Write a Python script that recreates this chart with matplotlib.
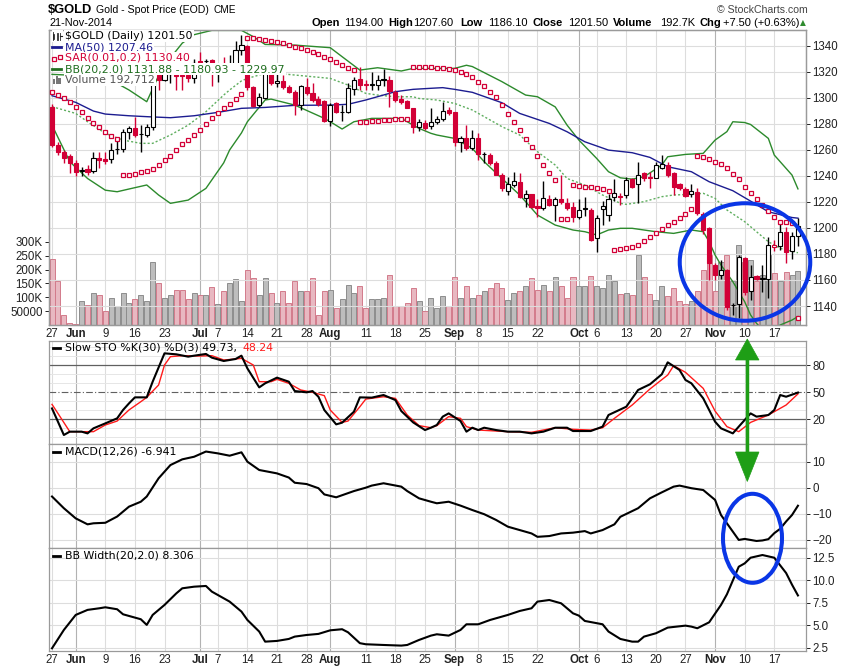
import numpy as np
import pandas as pd
import matplotlib
matplotlib.use('Agg')
import matplotlib.pyplot as plt
from matplotlib.patches import Ellipse, Polygon, Rectangle
from matplotlib.lines import Line2D

plt.rcParams['font.family'] = ['Liberation Sans', 'DejaVu Sans']

W, H = 850, 668

# trading days on the chart
days = pd.bdate_range('2014-05-27', '2014-11-21')
days = days[~days.isin(pd.to_datetime(['2014-07-04', '2014-09-01']))]

tick_dates = ['2014-05-27', '2014-06-02', '2014-06-09', '2014-06-16', '2014-06-23', '2014-07-01',
              '2014-07-07', '2014-07-14', '2014-07-21', '2014-07-28', '2014-08-01', '2014-08-11',
              '2014-08-18', '2014-08-25', '2014-09-02', '2014-09-08', '2014-09-15', '2014-09-22',
              '2014-10-01', '2014-10-06', '2014-10-13', '2014-10-20', '2014-10-27', '2014-11-03',
              '2014-11-10', '2014-11-17']
tick_text = ['27', 'Jun', '9', '16', '23', 'Jul', '7', '14', '21', '28', 'Aug', '11', '18', '25',
             'Sep', '8', '15', '22', 'Oct', '6', '13', '20', '27', 'Nov', '10', '17']

prev_close0 = 1292.0
opens = [1293, 1264, 1258, 1255, 1250, 1244, 1245, 1244, 1253.5, 1253, 1253, 1260.5, 1261, 1274, 1276.5,
         1272, 1271.5, 1277.6, 1317.7, 1314, 1318, 1318, 1317.5, 1317.5, 1315.5, 1328, 1328, 1329, 1320,
         1323, 1321, 1325, 1336.5, 1340, 1308.5, 1294.5, 1300, 1319, 1311.5, 1313, 1308, 1304.6, 1294.5,
         1308.6, 1303.6, 1299, 1297.5, 1282, 1295.8, 1289, 1288.8, 1307, 1314.4, 1310.5, 1310, 1310,
         1314.5, 1313.6, 1304.6, 1299, 1297.5, 1292, 1277.8, 1281, 1278, 1281.6, 1283.5, 1290.6, 1288.8,
         1266.2, 1269.3, 1261.6, 1269.3, 1256.5, 1256, 1250, 1240.6, 1228.4, 1233, 1235.6, 1223, 1225.8,
         1217, 1215, 1222.6, 1217.5, 1222, 1218.9, 1216, 1208.4, 1215.3, 1213.7, 1192, 1214.3, 1210,
         1223.6, 1224.2, 1225, 1237.6, 1233.5, 1241.9, 1239, 1238.6, 1246, 1248.7, 1241.9, 1233.6, 1230,
         1226, 1227.9, 1211, 1200, 1171.4, 1164.2, 1168, 1140.6, 1141.4, 1176.6, 1151.5, 1163, 1161,
         1161, 1185, 1186, 1196.5, 1182, 1194]
highs = [1295, 1266, 1260, 1257, 1252, 1247, 1248, 1258, 1258, 1258, 1265, 1268, 1276, 1278, 1285, 1279,
         1280, 1318, 1319, 1323, 1321, 1320, 1319, 1319, 1330, 1335, 1330, 1330, 1324, 1331, 1333, 1344,
         1348, 1340.5, 1309, 1303.4, 1325.7, 1325.7, 1318.8, 1317.5, 1309.5, 1306, 1310, 1315, 1311, 1301,
         1298, 1296, 1297, 1294.4, 1311, 1316, 1324, 1313.5, 1320, 1317.5, 1322.5, 1317, 1306, 1302,
         1298.4, 1292.5, 1284, 1283, 1291.9, 1286, 1297, 1293, 1289.3, 1270.4, 1279.3, 1275.4, 1272.8,
         1258.6, 1257.2, 1251.3, 1241.9, 1239.4, 1243, 1241.9, 1229, 1226.4, 1222, 1236.4, 1225.6, 1223.8,
         1240.6, 1223.2, 1219.9, 1222.6, 1223.5, 1215, 1210, 1220.5, 1226.4, 1237.6, 1227, 1239.5, 1238,
         1250.8, 1243.2, 1243.2, 1251, 1256, 1250.8, 1243.2, 1234.2, 1231.3, 1233.6, 1230.5, 1212.3,
         1200.8, 1172.7, 1175.3, 1168.5, 1142, 1179.3, 1178, 1171.4, 1163.8, 1171.4, 1193.3, 1191, 1204.9,
         1200.8, 1197.1, 1207.6]
lows = [1262, 1256, 1250, 1242, 1240, 1240, 1241, 1242, 1246, 1249, 1250, 1257, 1258, 1268, 1270, 1258,
        1270, 1275, 1306, 1313, 1311, 1306, 1306, 1312, 1311, 1325, 1325, 1309, 1312, 1319, 1318, 1324,
        1333, 1306, 1293, 1293, 1299, 1309.6, 1308, 1307, 1303.4, 1287, 1291, 1302, 1297, 1294, 1281.6,
        1278, 1288, 1282, 1288, 1302, 1306, 1306, 1306, 1306, 1309, 1293, 1297, 1295.6, 1292, 1273,
        1274.5, 1275, 1276, 1280, 1282, 1286.5, 1262.6, 1258.2, 1260, 1260, 1252.3, 1249.6, 1248.4,
        1240.6, 1228, 1225.3, 1231.7, 1222.7, 1216.3, 1215.5, 1208.6, 1213.8, 1216.7, 1205, 1218.1,
        1213.4, 1204.2, 1207.1, 1209, 1189.8, 1181.7, 1202.6, 1205, 1220.5, 1217.6, 1223, 1230.4, 1219.4,
        1236, 1230.4, 1238, 1245, 1239.4, 1225, 1228.8, 1224, 1224, 1209.9, 1195.2, 1159.8, 1159.8,
        1161.1, 1136.9, 1133, 1130.4, 1148.6, 1144.8, 1160, 1151, 1145.9, 1182, 1182.9, 1173.4, 1175.9,
        1186.1]
closes = [1264, 1258, 1254, 1250, 1243, 1244.5, 1243, 1253.5, 1252, 1251.5, 1260, 1261, 1274, 1276.5,
          1271.5, 1272.5, 1277.6, 1315, 1313.9, 1319, 1319.5, 1317, 1316.5, 1315.2, 1327, 1326.5, 1328.2,
          1321, 1322, 1320, 1324, 1336.7, 1340.5, 1308.5, 1294, 1300.4, 1319, 1311, 1313, 1308, 1304.6,
          1294.5, 1309, 1304, 1298.4, 1295, 1282, 1294.4, 1288.8, 1289.3, 1307.2, 1314, 1309.8, 1309.5,
          1310.2, 1313.6, 1314, 1305.5, 1298.4, 1296.4, 1292.4, 1277.8, 1281.6, 1277, 1281.6, 1283.7,
          1290, 1288, 1266.2, 1269.3, 1261.6, 1269.3, 1256.5, 1257, 1249.6, 1241, 1231, 1233.5, 1236.4,
          1224, 1225.8, 1216.3, 1215, 1223, 1217.5, 1222.6, 1219.7, 1215.5, 1208.4, 1213.7, 1214.5,
          1190.6, 1208, 1216.6, 1222.6, 1226.9, 1224, 1237, 1231.7, 1241, 1238.6, 1238, 1248.4, 1249.5,
          1240.6, 1231.6, 1230.8, 1224.7, 1228, 1211.2, 1198.5, 1172.7, 1164.2, 1168, 1139.5, 1140.8, 1178,
          1151, 1162.5, 1160.8, 1161.2, 1187, 1186.6, 1196.5, 1181.7, 1194, 1201.5]
volume_k = [237, 157, 35, 6, 4, 85, 71, 117, 110, 49, 99, 70, 114, 78, 92, 107, 85, 226, 150, 99, 110,
            128, 125, 93, 117, 110, 107, 138, 77, 124, 152, 167, 86, 200, 168, 107, 171, 115, 79, 121,
            81, 160, 121, 121, 171, 35, 124, 128, 60, 92, 146, 117, 142, 60, 92, 92, 98, 182, 70, 70, 78,
            132, 85, 49, 96, 60, 103, 70, 174, 98, 139, 98, 107, 121, 132, 150, 132, 89, 117, 124, 139,
            168, 128, 146, 124, 174, 139, 99, 174, 139, 142, 178, 139, 135, 182, 157, 112, 117, 107, 251,
            174, 112, 89, 142, 103, 132, 85, 74, 85, 124, 200, 251, 121, 229, 251, 157, 290, 229, 236,
            157, 182, 251, 188, 160, 190, 182, 193]
sar = [1304.5, 1302.5, 1300.2, 1297, 1293.2, 1288.8, 1284.2, 1280.5, 1277.5, 1274, 1271, 1268.5,
       1240.6, 1240.6, 1241.5, 1243, 1244, 1245.4, 1248.7, 1252, 1255.6, 1260.2, 1264.6, 1267.9, 1271.7,
       1275.6, 1279.9, 1284.5, 1288.4, 1292.4, 1295.6, 1299.4, 1303,
       1346.2, 1346.2, 1345.1, 1344.4, 1343.6, 1342.6, 1341.8, 1340.5, 1339.3, 1338, 1336.7, 1334.9,
       1333.4, 1331.6, 1329.8, 1327.7, 1325.2, 1323.1, 1321.3,
       1281.1, 1281.6, 1281.9, 1282.2, 1282.7, 1283.2, 1283.4, 1283.7, 1283.9,
       1323.9, 1323.9, 1323.6, 1323.4, 1323.1, 1322.6, 1321.8, 1321.3, 1319.5, 1318, 1315.6, 1312.3,
       1308.7, 1304.6, 1300.3, 1294.2, 1287.2, 1281.1, 1274.9, 1268.3, 1261.9, 1254.9, 1248.3, 1242.4,
       1236.7,
       1206.8, 1206.8,
       1232.7, 1232, 1231.7, 1231.2, 1230.4, 1229.9, 1228.6,
       1182.8, 1183.5, 1184.3, 1185.6, 1186.9, 1190, 1192.8, 1195.8, 1199.2, 1202.2, 1204.8, 1207.4,
       1210.4, 1214.3,
       1255.5, 1254.7, 1252.9, 1250.9, 1248.8, 1245.8, 1241.4, 1237.3, 1231.7, 1226.6, 1222.2, 1217.6,
       1213, 1208.7, 1204.8, 1204.3, 1204,
       1130.4]

# indicator lines, read at bar numbers
ma_day = [0, 4, 7, 9, 13, 16, 20, 24, 28, 32, 36, 41, 47, 50, 53, 58, 61, 64, 66, 68, 71, 76, 79, 84,
          87, 90, 94, 98, 101, 104, 108, 111, 115, 118, 121, 125, 126]
ma_val = [1301.6, 1296.5, 1289.8, 1287.5, 1286.2, 1285.5, 1284.7, 1286.2, 1288.8, 1291.9, 1292.6,
          1294.2, 1294.4, 1295.0, 1298.3, 1304.7, 1306.5, 1307.3, 1307.8, 1306.5, 1304.2, 1296.2,
          1288.0, 1280.3, 1273.9, 1266.2, 1259.8, 1257.8, 1254.2, 1247.0, 1243.2, 1235.5, 1228.6,
          1220.6, 1212.4, 1208.0, 1207.5]
bbu_day = [0, 5, 10, 13, 16, 18, 19, 22, 24, 27, 30, 32, 34, 36, 41, 47, 49, 52, 55, 59, 61, 64, 68,
           70, 71, 76, 80, 82, 85, 87, 89, 92, 94, 96, 98, 100, 103, 104, 107, 110, 112, 114, 115, 117,
           118, 121, 122, 125, 126]
bbu_val = [1318, 1317, 1313.6, 1306, 1297, 1317, 1325, 1342, 1348.5, 1351.8, 1351.8, 1351.8, 1347, 1341,
           1340.5, 1338.5, 1331.6, 1321.3, 1323.1, 1320.6, 1322.6, 1322.6, 1322.6, 1325, 1324, 1312.4,
           1302.1, 1300.8, 1293, 1279, 1267.5, 1253.4, 1243.2, 1238.5, 1237.5, 1239.3, 1248.3, 1254.7,
           1256.5, 1257.3, 1267.5, 1274, 1281.6, 1281, 1279.5, 1268.8, 1256, 1240.6, 1230]
bbm_day = [0, 1, 4, 6, 9, 12, 15, 17, 20, 23, 26, 29, 30, 32, 33, 36, 38, 41, 47, 50, 53, 55, 58, 61,
           62, 65, 68, 71, 73, 76, 79, 82, 85, 87, 90, 93, 96, 97, 100, 103, 105, 108, 110, 112, 114,
           117, 119, 121, 123, 126]
bbm_val = [1293.2, 1291.9, 1288, 1281.6, 1272.7, 1267.5, 1265, 1265, 1271.4, 1279, 1289.3, 1302.1,
           1306, 1313, 1314.9, 1318.8, 1318.8, 1317.5, 1314.9, 1309.8, 1303.4, 1302.1, 1300.8, 1300.8,
           1299.5, 1298.3, 1295.7, 1290.6, 1285.5, 1277.8, 1271.4, 1258.6, 1248.3, 1238, 1232.9, 1225.3,
           1218.9, 1218.1, 1220.2, 1224, 1225.3, 1225.8, 1226.6, 1222.7, 1213.8, 1204.8, 1197.1, 1189.4,
           1184.3, 1180.9]
bbl_day = [0, 3, 6, 9, 11, 13, 16, 18, 20, 23, 26, 29, 30, 32, 33, 36, 37, 41, 46, 47, 49, 51, 54, 59,
           61, 62, 64, 65, 68, 71, 73, 76, 79, 82, 85, 88, 90, 92, 94, 96, 98, 100, 102, 105, 108, 110,
           111, 112, 113, 115, 117, 118, 119, 120, 121, 122, 123, 125, 126]
bbl_val = [1279, 1250.9, 1238, 1229, 1227.8, 1229.9, 1233, 1225.3, 1218.9, 1221.4, 1230.4, 1250,
           1259.9, 1273, 1281.6, 1298.3, 1299, 1294.4, 1284.2, 1281.6, 1276, 1281.6, 1284.2, 1284.2, 1279,
           1276.5, 1272.7, 1271.4, 1268.8, 1261.1, 1250.9, 1238, 1225.3, 1209.9, 1202.2, 1198.4, 1197.1,
           1194.6, 1198.4, 1199.7, 1199.7, 1198.4, 1197.1, 1195.8, 1198.4, 1197.1, 1189.4, 1179.2, 1171.5,
           1158.7, 1143.3, 1133.1, 1126.7, 1122, 1120, 1122, 1125.4, 1129.2, 1131.9]

stok_day = [0, 2, 3, 5, 6, 7, 9, 11, 12, 13, 14, 16, 17, 19, 21, 23, 24, 26, 27, 29, 31, 32, 33, 35,
            36, 38, 40, 41, 43, 44, 45, 46, 48, 49, 51, 52, 54, 56, 58, 59, 61, 63, 64, 65, 66, 67, 69,
            70, 71, 72, 73, 75, 77, 79, 81, 83, 85, 87, 88, 91, 93, 94, 97, 99, 101, 103, 104, 106, 107,
            108, 110, 112, 113, 115, 116, 118, 119, 121, 122, 123, 124, 126]
stok_val = [32.1, 2.6, 6.3, 6.3, 4.4, 10, 15.5, 21.1, 30.4, 37.7, 44.4, 44.4, 61.8, 93.3, 92.2, 89.6,
            90.7, 92.6, 88.5, 84.8, 87, 90.7, 76.6, 55.5, 60, 66.3, 61.8, 51.4, 50, 51.4, 45.1, 30.3,
            14.4, 16.3, 28.5, 44.4, 44.1, 47, 41.4, 29.2, 16.6, 8.1, 10.7, 13.7, 23, 26.6, 18.1, 6.3,
            10.7, 8.1, 10.7, 8.1, 6.3, 6.3, 4.4, 6.3, 10.7, 10.7, 7, 7, 11.9, 24.8, 34, 52.6, 58.9, 70,
            83.3, 74.8, 63.7, 60, 43.3, 17.4, 10, 4.4, 11.9, 26.6, 23, 24.8, 30.3, 47, 45.1, 49.73]
stod_day = [0, 1, 3, 5, 7, 9, 11, 13, 15, 16, 18, 19, 20, 22, 25, 27, 29, 31, 32, 34, 35, 37, 38, 40,
            42, 44, 46, 47, 49, 50, 52, 53, 56, 58, 60, 62, 64, 65, 67, 69, 70, 72, 77, 81, 85, 88, 91,
            93, 95, 98, 101, 104, 105, 107, 110, 112, 114, 116, 118, 121, 124, 126]
stod_val = [36.6, 26.6, 6.3, 6.3, 6.3, 13.7, 18.1, 30.4, 39.6, 44.4, 58.1, 80.3, 89.6, 90.7, 90.3, 90.7,
            85.9, 87, 87.7, 80.3, 61.8, 61.8, 64.4, 60, 52.6, 50, 46.3, 30.3, 16.6, 18.1, 34, 42.5, 45.1,
            43.3, 24.8, 13, 10.7, 13, 23, 21.1, 11.9, 8.1, 6.3, 5.6, 10.7, 8.9, 8.1, 10.7, 21.1, 35.9,
            53.7, 69.2, 79.6, 72.2, 54.4, 29.2, 11.9, 6.3, 16.6, 24.8, 35.9, 48.24]

macd_day = [0, 2, 4, 6, 7, 9, 11, 13, 15, 16, 18, 20, 22, 24, 26, 28, 30, 32, 33, 35, 38, 40, 41, 43,
            45, 46, 48, 51, 53, 54, 56, 59, 60, 62, 64, 65, 67, 69, 71, 73, 75, 77, 79, 81, 82, 84, 86,
            88, 90, 91, 93, 95, 96, 99, 101, 103, 105, 106, 108, 110, 112, 113, 115, 116, 117, 119, 120,
            121, 122, 123, 124, 125, 126]
macd_val = [-3.4, -7.9, -11.8, -14.1, -13.7, -13.5, -11.1, -7.3, -5.4, -3.4, 3.6, 8.7, 10.9, 11.9, 13.9,
            13.2, 12.3, 13.6, 10, 6.8, 5.5, 3.9, 1.9, 1.4, -0.2, -2.6, -3.7, -1.3, 0, 0.8, 1.7, 0.4, -1.3,
            -4.1, -5.4, -6, -5.4, -6.9, -8.6, -10.2, -12.4, -15, -16.3, -17.6, -18.9, -18.6, -17.6, -17.3,
            -16.7, -17.6, -16.3, -14.1, -11.2, -7.9, -4.1, -1.8, 0.4, 0.8, -0.2, -0.9, -4.7, -10.5, -16.9,
            -20.1, -19.7, -20.5, -20.3, -19.8, -17.5, -15.8, -13.0, -10.5, -6.941]

bbw_day = [0, 2, 4, 6, 8, 9, 11, 12, 15, 16, 17, 19, 21, 22, 24, 26, 27, 30, 32, 33, 35, 36, 38, 40,
           41, 43, 45, 47, 49, 50, 52, 53, 56, 59, 60, 62, 64, 65, 67, 69, 70, 72, 74, 77, 79, 81, 82,
           84, 86, 88, 89, 90, 93, 94, 96, 98, 99, 100, 102, 104, 107, 108, 109, 111, 113, 114, 116,
           117, 118, 120, 122, 124, 125, 126]
bbw_val = [2.43, 4.47, 6.14, 6.7, 6.88, 6.99, 6.77, 6.21, 5.66, 5.03, 6.14, 7.25, 8.54, 9.1, 9.28, 9.36,
           8.73, 7.62, 6.51, 5.58, 4.29, 3.17, 3.25, 3.47, 3.73, 3.91, 4.03, 4.43, 4.55, 4.21, 3.0, 2.88,
           2.8, 2.73, 2.8, 3.36, 3.84, 3.99, 3.84, 4.47, 5.1, 5.1, 5.58, 6.14, 6.58, 6.88, 7.62, 7.8,
           7.43, 6.32, 6.06, 5.47, 5.1, 4.29, 3.47, 3.17, 3.17, 3.73, 4.1, 4.73, 4.95, 4.84, 4.66, 5.32,
           7.25, 8.43, 11.5, 11.87, 12.5, 12.8, 12.5, 10.8, 9.5, 8.306]

price_ticks = [1140, 1160, 1180, 1200, 1220, 1240, 1260, 1280, 1300, 1320, 1340]
vol_ticks = [50, 100, 150, 200, 250, 300]
vol_tick_text = ['50000', '100K', '150K', '200K', '250K', '300K']

RED = '#d20036'
BLACK = '#000000'
GRID = '#dddddd'
GRID_M = '#b2b2b2'
SPINE = '#9a9a9a'

fig = plt.figure(figsize=(W / 100, H / 100), dpi=100)
renderer = fig.canvas.get_renderer()
L, R = 49, 806


def rect(top, bottom):
    return [L / W, 1 - bottom / H, (R - L) / W, (bottom - top) / H]


def ftext(x, y, s, **kw):
    kw.setdefault('va', 'center')
    return fig.text(x / W, 1 - y / H, s, **kw)


def after(t, s, gap, **kw):
    # put a new piece of text right after an existing one
    bb = t.get_window_extent(renderer)
    kw.setdefault('va', 'center')
    return fig.text((bb.x1 + gap) / W, t.get_position()[1], s, **kw)


def fline(x0, x1, y0, y1, **kw):
    kw.setdefault('zorder', 5)
    fig.add_artist(Line2D([x0 / W, x1 / W], [1 - y0 / H, 1 - y1 / H], transform=fig.transFigure, **kw))


tick_idx = [days.get_loc(pd.Timestamp(d)) for d in tick_dates]
xlim = (-0.51, 127.36)
n = len(closes)
idx = np.arange(n)
o = np.array(opens)
c = np.array(closes)
prev = np.r_[prev_close0, c[:-1]]
down = c < prev
filled = c < o

ax_vol = fig.add_axes(rect(30, 325))
ax = fig.add_axes(rect(30, 325))
ax.patch.set_alpha(0)
ax_sto = fig.add_axes(rect(341, 444))
ax_macd = fig.add_axes(rect(444, 548))
ax_bbw = fig.add_axes(rect(548, 651))

for a in (ax_vol, ax, ax_sto, ax_macd, ax_bbw):
    a.set_xlim(*xlim)
    for sp in a.spines.values():
        sp.set_color(SPINE)
        sp.set_linewidth(0.9)
    a.tick_params(axis='both', labelsize=8.3, colors='#222222', length=3, width=0.7, pad=1.5)
    a.tick_params(axis='x', length=0, pad=2)
    a.set_xticks(tick_idx)
    a.set_xticklabels([])
    a.yaxis.tick_right()

for a in (ax_vol, ax_sto, ax_macd, ax_bbw):
    for t, s in zip(tick_idx, tick_text):
        a.axvline(t, color=GRID_M if s.isalpha() else GRID, lw=0.8, zorder=0)

# volume underneath
vface = np.where(down, '#e8b8c1', '#bdbdbd')
vedge = np.where(down, '#d27b8b', '#8d8d8d')
ax_vol.bar(idx, volume_k, width=0.85, color=vface, edgecolor=vedge, linewidth=0.7, zorder=2)
ax_vol.set_ylim(0, 1064)
ax_vol.yaxis.tick_left()
ax_vol.set_yticks(vol_ticks)
ax_vol.set_yticklabels(vol_tick_text)

# price panel
ax.set_ylim(1125.4, 1352.1)
ax.set_yticks(price_ticks)
for p in price_ticks:
    ax.axhline(p, color=GRID, lw=0.8, zorder=0)
ax.set_xticklabels(tick_text)

ax.plot(bbu_day, bbu_val, color='#2c8a2c', lw=1.0, zorder=2)
ax.plot(bbl_day, bbl_val, color='#2c8a2c', lw=1.0, zorder=2)
ax.plot(bbm_day, bbm_val, color='#5fae5f', lw=1.0, ls=(0, (1.5, 1.5)), zorder=2)
ax.plot(ma_day, ma_val, color='#1c1c90', lw=1.0, zorder=2)

wick_col = np.where(down, RED, BLACK)
ax.vlines(idx, lows, highs, colors=wick_col, lw=1.0, zorder=3)
body_face = np.where(filled, wick_col, '#ffffff')
body_h = np.maximum(np.abs(c - o), 0.45)
ax.bar(idx, body_h, bottom=np.minimum(o, c), width=0.7, color=body_face, edgecolor=wick_col,
       linewidth=0.8, zorder=4)
ax.plot(idx, sar, 's', ms=2.6, mfc='white', mec=RED, mew=0.9, ls='none', zorder=5)

# slow stochastics
ax_sto.set_ylim(-7.4, 107)
ax_sto.set_yticks([20, 50, 80])
for v in [0, 10, 30, 40, 60, 70, 90, 100]:
    ax_sto.axhline(v, color='#e6e6e6', lw=0.7, zorder=0)
ax_sto.axhline(80, color='#606060', lw=0.9, zorder=1)
ax_sto.axhline(20, color='#606060', lw=0.9, zorder=1)
ax_sto.axhline(50, color='#606060', lw=0.8, ls=(0, (6, 2, 1, 2)), zorder=1)
ax_sto.plot(stod_day, stod_val, color='#ff1a1a', lw=1.0, zorder=3)
ax_sto.plot(stok_day, stok_val, color=BLACK, lw=1.5, zorder=4)

# MACD
ax_macd.set_ylim(-23.2, 16.8)
ax_macd.set_yticks([-20, -10, 0, 10])
for v in [-20, -10, 0, 10]:
    ax_macd.axhline(v, color=GRID, lw=0.8, zorder=0)
ax_macd.plot(macd_day, macd_val, color=BLACK, lw=1.5, zorder=3)

# BB width
ax_bbw.set_ylim(2.13, 13.58)
ax_bbw.set_yticks([2.5, 5.0, 7.5, 10.0, 12.5])
ax_bbw.set_yticklabels(['2.5', '5.0', '7.5', '10.0', '12.5'])
for v in [2.5, 5.0, 7.5, 10.0, 12.5]:
    ax_bbw.axhline(v, color=GRID, lw=0.8, zorder=0)
ax_bbw.plot(bbw_day, bbw_val, color=BLACK, lw=1.5, zorder=3)
ax_bbw.set_xticklabels(tick_text)

for a in (ax, ax_bbw):
    for lbl, s in zip(a.get_xticklabels(), tick_text):
        if s.isalpha():
            lbl.set_fontweight('bold')

# header
t = ftext(48, 10, '$GOLD', fontsize=9.3, fontweight='bold')
t = after(t, 'Gold - Spot Price (EOD)', 4, fontsize=7.6)
after(t, 'CME', 4, fontsize=7.2)
ftext(49, 23, '21-Nov-2014', fontsize=7.8)
ftext(717, 10, '\u00a9 StockCharts.com', fontsize=7.6, color='#444444')
hdr = [(311.7, 'Open', True), (344, '1194.00', False), (388.3, 'High', True), (413, '1207.60', False),
       (460.7, 'Low', True), (488.3, '1186.10', False), (532.3, 'Close', True), (568.3, '1201.50', False),
       (613.3, 'Volume', True), (660, '192.7K', False), (699, 'Chg', True),
       (723.3, '+7.50 (+0.63%)', False)]
for x, s, b in hdr:
    ftext(x, 23, s, fontsize=8, fontweight='bold' if b else 'normal')
ftext(803, 23, '\u25b2', fontsize=5.5, color='#2e8b2e', ha='center', family='DejaVu Sans')

# price legend, each line on a white strip
lg = dict(fontsize=7.9, family='DejaVu Sans')
box = dict(boxstyle='square,pad=0.12', fc='white', ec='none')
ftext(65, 36, '$GOLD (Daily) 1201.50', color=BLACK, bbox=box, **lg)
ftext(65, 47, 'MA(50) 1207.46', color='#1c1c90', bbox=box, **lg)
ftext(65, 58, 'SAR(0.01,0.2) 1130.40', color=RED, bbox=box, **lg)
ftext(65, 69, 'BB(20,2.0) 1131.88 - 1180.93 - 1229.97', color='#1f6e1f', bbox=box, **lg)
ftext(65, 80, 'Volume 192,712', color='#555555', bbox=box, **lg)
fig.add_artist(Rectangle((52 / W, 1 - 42 / H), 11 / W, 12 / H, transform=fig.transFigure,
                         fc='white', ec='none', zorder=4))
fig.add_artist(Rectangle((52.5 / W, 1 - 39 / H), 1.6 / W, 5 / H, transform=fig.transFigure,
                         fc='#222222', ec='#222222', lw=0.5, zorder=5))
fig.add_artist(Rectangle((56.5 / W, 1 - 40 / H), 1.6 / W, 7 / H, transform=fig.transFigure,
                         fc='white', ec='#222222', lw=0.6, zorder=5))
fline(53.3, 53.3, 32, 40, color='#222222', lw=0.6)
fline(60, 60, 33, 40, color='#222222', lw=0.6)
fline(60, 62, 36, 36, color='#222222', lw=0.8)
fline(52, 61, 47, 47, color='#1c1c90', lw=2.0)
fig.add_artist(Line2D([54 / W, 60 / W], [1 - 59 / H, 1 - 57 / H], transform=fig.transFigure, ls='none',
                      marker='s', ms=2.6, mfc='white', mec=RED, mew=0.9, zorder=5))
fline(52, 61, 69, 69, color='#1f6e1f', lw=2.0)
for bx, bh in [(52.5, 5), (55.5, 8), (58.5, 6)]:
    fig.add_artist(Rectangle((bx / W, 1 - 84 / H), 2.2 / W, bh / H, transform=fig.transFigure,
                             fc='#777777', ec='none', zorder=5))

# indicator titles
fline(52.5, 59.5, 348, 348, color=BLACK, lw=2.0)
t = ftext(65, 348, 'Slow STO %K(30) %D(3) 49.73,', color=BLACK, **lg)
after(t, '48.24', 5, color='#ff1a1a', **lg)
fline(52.5, 59.5, 452, 452, color=BLACK, lw=2.0)
ftext(65, 452, 'MACD(12,26) -6.941', color=BLACK, **lg)
fline(52.5, 59.5, 556, 556, color=BLACK, lw=2.0)
ftext(65, 556, 'BB Width(20,2.0) 8.306', color=BLACK, **lg)

# annotations
BLUE = '#0a36e6'
fig.add_artist(Ellipse((745 / W, 1 - 262 / H), 130.5 / W, 117.5 / H, transform=fig.transFigure,
                       fill=False, ec=BLUE, lw=2.9))
fig.add_artist(Ellipse((752.5 / W, 1 - 538.3 / H), 59 / W, 89 / H, transform=fig.transFigure,
                       fill=False, ec=BLUE, lw=2.9))
GREEN = '#1e9e16'
fline(747.3, 747.3, 352, 468, color=GREEN, lw=2.5, solid_capstyle='butt')
fig.add_artist(Polygon([(747.3 / W, 1 - 339 / H), (735.5 / W, 1 - 360 / H), (759 / W, 1 - 360 / H)],
                       closed=True, transform=fig.transFigure, fc=GREEN, ec=GREEN, lw=0.5))
fig.add_artist(Polygon([(747.3 / W, 1 - 481.5 / H), (735.5 / W, 1 - 452 / H), (759 / W, 1 - 452 / H)],
                       closed=True, transform=fig.transFigure, fc=GREEN, ec=GREEN, lw=0.5))

fig.savefig('out.png', dpi=100, facecolor='white')
